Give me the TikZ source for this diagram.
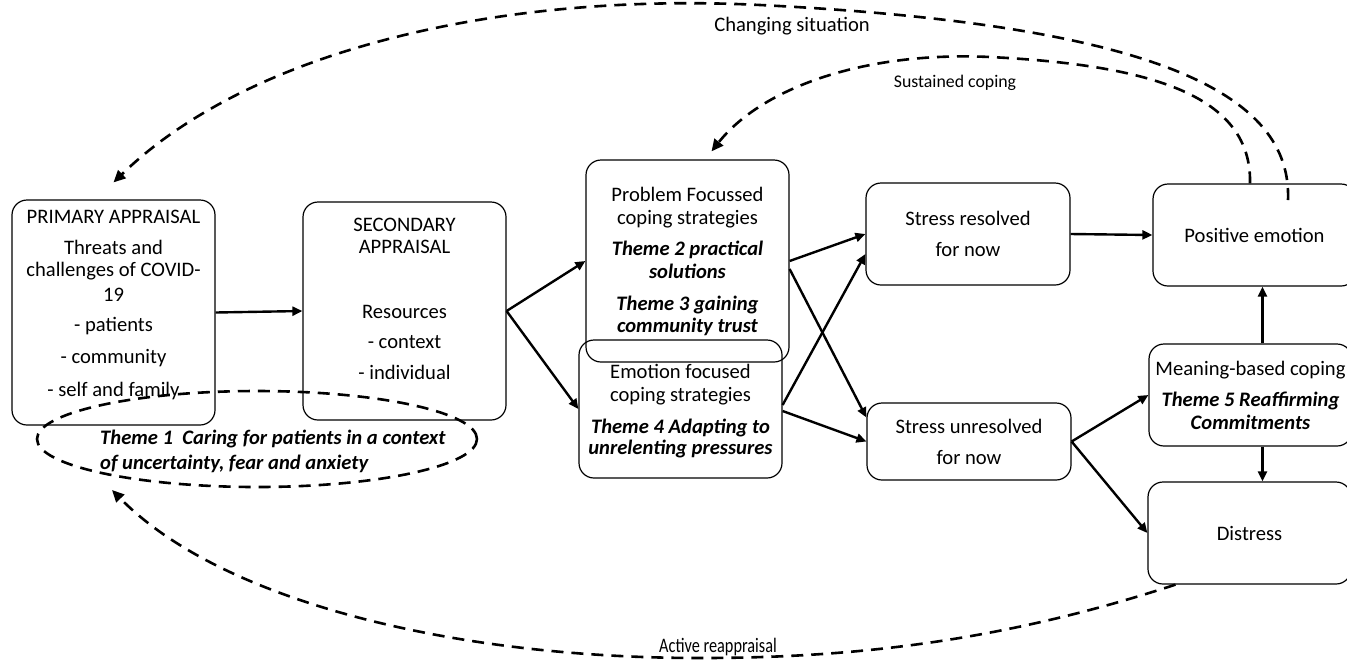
\documentclass[tikz,border=0pt]{standalone}
\usepackage{fontspec}
\setmainfont{Carlito}
\usetikzlibrary{arrows.meta,shapes.geometric}

\newcommand{\thmtxt}[1]{\textbf{\textit{#1}}}

\begin{document}
\begin{tikzpicture}[x=0.5pt, y=-0.5pt,
        box/.style={rectangle, draw, rounded corners=7.5pt, line width=0.6pt, minimum width=101.5pt, align=center, inner sep=2pt, font=\fontsize{10.3}{11.5}\selectfont},
        arrow/.style={-{Triangle[length=5pt,width=4.5pt]}, line width=1.2pt},
        dashline/.style={dash pattern=on 6pt off 4pt, line width=1.3pt},
        feedback/.style={dashline, -{Triangle[length=6pt,width=5.5pt]}},
        lbl/.style={font=\fontsize{10.3}{11.5}\selectfont, inner sep=0pt}
    ]
        \useasboundingbox (0,0) rectangle (1347,660);

        % Appraisal
        \node[box, minimum height=112.5pt, text depth=9pt] (primary) at (113.5,312.5) {PRIMARY APPRAISAL\\[4pt]Threats and\\[-0.5pt]challenges of COVID-\\[1pt]19\\[3.5pt]- patients\\[4.5pt]- community\\[5pt]- self and family};
        \node[box, minimum height=109pt, text depth=12pt] (secondary) at (404.5,311) {SECONDARY\\[-0.5pt]APPRAISAL\\[21pt]Resources\\[3.5pt]- context\\[4pt]- individual};

        % Theme 1
        \node[draw, ellipse, dashline, minimum width=220pt, minimum height=48pt] (theme1-ring) at (257,439) {};
        \node[lbl, align=left] (theme1) at (273,451) {\thmtxt{Theme 1~ Caring for patients in a context}\\[1pt]\thmtxt{of uncertainty, fear and anxiety}};

        % Coping
        \node[box, minimum height=101pt] (problem) at (687.5,261) {Problem Focussed\\coping strategies\\[4pt]\thmtxt{Theme 2 practical}\\\thmtxt{solutions}\\[4.5pt]\thmtxt{Theme 3 gaining}\\[-0.5pt]\thmtxt{community trust}};
        \node[box, minimum height=69pt, text depth=0pt] (emotion) at (680.5,409) {Emotion focused\\coping strategies\\[4.5pt]\thmtxt{Theme 4 Adapting to}\\[-1pt]\thmtxt{unrelenting pressures}};

        % Outcomes
        \node[box, minimum width=102pt, minimum height=51pt] (resolved) at (968,234) {Stress resolved\\[4pt]for now};
        \node[box, minimum width=102pt, minimum height=38.5pt] (unresolved) at (969,441.5) {Stress unresolved\\[4pt]for now};
        \node[box, minimum height=51pt] (positive) at (1254.5,235) {Positive emotion};
        \node[box, minimum height=51pt] (meaning) at (1250.5,395) {Meaning-based coping\\[4pt]\thmtxt{Theme 5 Reaffirming}\\\thmtxt{Commitments}};
        \node[box, minimum height=51pt] (distress) at (1249.5,533) {Distress};

        % Arrows
        \draw[arrow] (primary.east) -- (secondary.west);
        \draw[arrow] (secondary.east) -- (problem.west);
        \draw[arrow] (secondary.east) -- (emotion.west);
        \draw[arrow] (problem.east) -- (resolved.west);
        \draw[arrow] ([yshift=-4pt]problem.east) -- ([yshift=12pt]unresolved.west);
        \draw[arrow] ([yshift=2pt]emotion.east) -- ([yshift=-10pt]resolved.west);
        \draw[arrow] ([yshift=-1pt]emotion.east) -- (unresolved.west);
        \draw[arrow] (resolved.east) -- (positive.west);
        \draw[arrow] (unresolved.east) -- (meaning.west);
        \draw[arrow] (unresolved.east) -- (distress.west);
        \draw[arrow] ([xshift=6pt]meaning.north) -- ([xshift=6pt]meaning.north |- positive.south);
        \draw[arrow] ([xshift=6pt]meaning.south) -- ([xshift=6pt]meaning.south |- distress.north);

        % Feedback loops
        \coordinate (chg-start) at (1288,200);
        \coordinate (sus-start) at ([xshift=-2.25pt]positive.north);
        \coordinate (reapp-end) at (112,490);
        \draw[feedback] (chg-start) .. controls (1292,95) and (1160,25) .. (760,5) .. controls (500,-8) and (250,50) .. ([yshift=8.5pt]primary.north);
        \draw[feedback] (sus-start) .. controls (1252,95) and (1150,65) .. (990,57) .. controls (860,51) and (760,90) .. ([xshift=12pt,yshift=4pt]problem.north);
        \draw[feedback] ([xshift=-37pt]distress.south) .. controls (1000,642) and (850,658) .. (700,658) .. controls (450,658) and (220,600) .. (reapp-end);

        \node[lbl] (changing) at (792,26) {Changing situation};
        \node[lbl, font=\fontsize{8.9}{10}\selectfont] (sustained) at (955,83) {Sustained coping};
        \node[lbl] (active) at (718,647) {\scalebox{0.79}[1]{Active reappraisal}};
    \end{tikzpicture}
\end{document}
